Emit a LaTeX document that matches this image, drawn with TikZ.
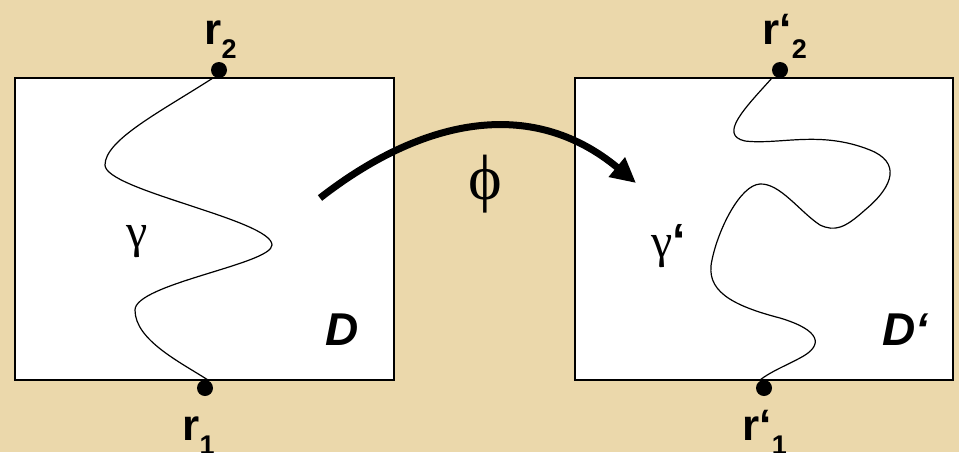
\documentclass[tikz,border=0pt]{standalone}
\usepackage{fontspec}
\setmainfont{Liberation Serif}
\setsansfont{Liberation Sans}
\usetikzlibrary{arrows.meta}
\definecolor{parchment}{HTML}{EBD8AB}
\tikzset{
  regionbox/.style={draw=black, fill=white, line width=0.75pt},
  endpoint/.style={circle, fill=black, inner sep=0pt, minimum size=8pt},
  trace/.style={line width=0.6pt},
  ptlabel/.style={font=\sffamily\bfseries\fontsize{22}{22}\selectfont, anchor=base west, inner sep=0pt},
  dlabel/.style={font=\sffamily\bfseries\itshape\fontsize{23}{23}\selectfont, anchor=base west, inner sep=0pt},
  greek/.style={font=\rmfamily\fontsize{24}{24}\selectfont, anchor=base west, inner sep=0pt},
  maparrow/.style={-{Triangle[length=12.5pt, width=12pt]}, line width=3.5pt},
}
\newcommand{\lowsub}[1]{\raisebox{-7pt}{\fontsize{13.5}{13.5}\selectfont #1}}
\newcommand{\tick}{{\sffamily\bfseries ‘}}

\begin{document}
\begin{tikzpicture}[x=0.5pt, y=-0.5pt]
  \fill[parchment] (0,0) rectangle (959,452);
  \useasboundingbox (0,0) rectangle (959,452);
  % the two domains
  \draw[regionbox] (15,78) rectangle (394,380);
  \draw[regionbox] (575,78) rectangle (953,380);
  % gamma in D
  \draw[trace] (213,78) .. controls (160,112) and (105,140) .. (105,165)
    .. controls (105,190) and (272,220) .. (272,245)
    .. controls (272,264) and (135,284) .. (135,310)
    .. controls (135,340) and (180,362) .. (208,380);
  % gamma' in D'
  \draw[trace] (772,78) .. controls (745,108) and (718,135) .. (745,141)
    .. controls (780,145) and (820,130) .. (870,150)
    .. controls (900,162) and (895,185) .. (865,210)
    .. controls (845,228) and (835,232) .. (820,225)
    .. controls (800,212) and (780,183) .. (760,184)
    .. controls (740,185) and (718,230) .. (712,260)
    .. controls (705,290) and (730,305) .. (780,318)
    .. controls (820,330) and (825,345) .. (800,358)
    .. controls (785,366) and (770,372) .. (760,380);
  % end points
  \node[endpoint] (r2dot) at (219,70) {};
  \node[endpoint] (r1dot) at (205,388) {};
  \node[endpoint] (rr2dot) at (780,70) {};
  \node[endpoint] (rr1dot) at (764,388) {};
  \node[ptlabel] (r2) at (204,44) {r\lowsub{2}};
  \node[ptlabel] (r1) at (182,440) {r\lowsub{1}};
  \node[ptlabel] (rr2) at (762,44) {r‘\lowsub{2}};
  \node[ptlabel] (rr1) at (742,440) {r‘\lowsub{1}};
  \node[dlabel] (dname) at (325,345) {D};
  \node[dlabel] (ddname) at (882,345) {D‘};
  \node[greek] (gamma) at (126,247) {γ};
  \node[greek] (ggamma) at (651,257) {γ\tick};
  % the map phi
  \coordinate (phistart) at (320,198);
  \coordinate (phiend) at (636,183);
  \draw[maparrow] (phistart) .. controls (420,120) and (530,95) .. (phiend);
  \node[font=\rmfamily\fontsize{32}{32}\selectfont, inner sep=0pt] (phi) at (485,184) {ϕ};
\end{tikzpicture}
\end{document}
